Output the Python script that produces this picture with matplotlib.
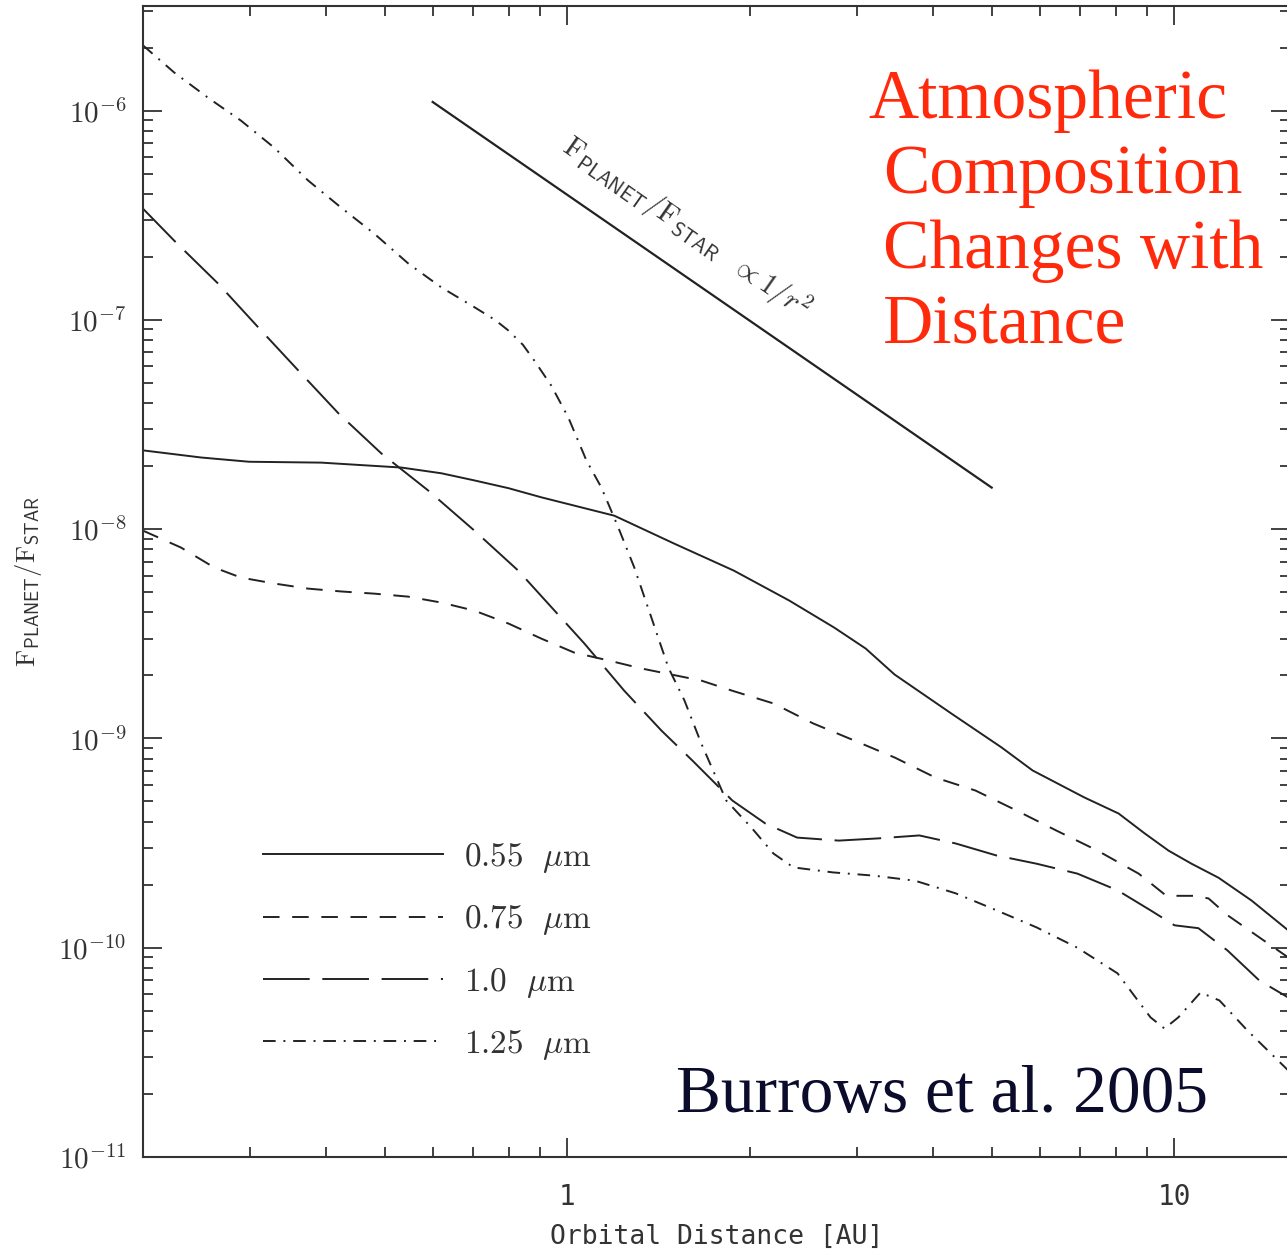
import math
import matplotlib
matplotlib.use('Agg')
import matplotlib.pyplot as plt
from matplotlib.ticker import LogLocator, FixedLocator, FuncFormatter, NullFormatter

dist_055 = [0.2, 0.2495, 0.299, 0.393, 0.533, 0.62, 0.703, 0.80, 0.906, 1.195,
            1.50, 1.88, 2.32, 2.75, 3.1, 3.46, 4.30, 5.19, 5.84, 7.11, 8.09,
            8.93, 9.78, 10.67, 11.82, 13.4, 15.4]
flux_055 = [2.38e-8, 2.20e-8, 2.10e-8, 2.08e-8, 1.97e-8, 1.85e-8, 1.71e-8,
            1.57e-8, 1.42e-8, 1.16e-8, 8.53e-9, 6.34e-9, 4.56e-9, 3.39e-9,
            2.69e-9, 2.02e-9, 1.31e-9, 9.06e-10, 7.03e-10, 5.22e-10, 4.38e-10,
            3.52e-10, 2.91e-10, 2.52e-10, 2.16e-10, 1.68e-10, 1.21e-10]

dist_075 = [0.2, 0.231, 0.262, 0.290, 0.329, 0.374, 0.424, 0.481, 0.547, 0.620,
            0.703, 0.800, 0.906, 1.027, 1.168, 1.324, 1.662, 1.870, 2.185, 2.54,
            2.97, 3.46, 4.04, 4.70, 5.49, 6.39, 7.47, 8.73, 9.70, 10.79, 11.38,
            12.23, 13.80, 15.4]
flux_075 = [9.84e-9, 8.17e-9, 6.56e-9, 5.87e-9, 5.50e-9, 5.20e-9, 5.04e-9,
            4.92e-9, 4.76e-9, 4.46e-9, 4.08e-9, 3.54e-9, 3.00e-9, 2.57e-9,
            2.36e-9, 2.16e-9, 1.89e-9, 1.69e-9, 1.47e-9, 1.18e-9, 9.77e-10,
            8.11e-10, 6.50e-10, 5.64e-10, 4.53e-10, 3.63e-10, 2.91e-10,
            2.26e-10, 1.77e-10, 1.77e-10, 1.72e-10, 1.43e-10, 1.12e-10, 8.98e-11]

dist_100 = [0.2, 0.2252, 0.266, 0.310, 0.3605, 0.420, 0.494, 0.590, 0.703, 0.830,
            1.067, 1.241, 1.429, 1.607, 1.870, 2.12, 2.39, 2.80, 3.25, 3.80,
            4.36, 5.09, 5.93, 6.92, 8.06, 9.13, 10.0, 10.95, 12.23, 13.80, 15.4]
flux_100 = [3.40e-7, 2.39e-7, 1.49e-7, 9.18e-8, 5.73e-8, 3.57e-8, 2.30e-8,
            1.53e-8, 9.84e-9, 6.34e-9, 2.84e-9, 1.69e-9, 1.09e-9, 7.84e-10,
            5.05e-10, 3.92e-10, 3.36e-10, 3.25e-10, 3.33e-10, 3.44e-10,
            3.15e-10, 2.76e-10, 2.52e-10, 2.26e-10, 1.88e-10, 1.51e-10,
            1.28e-10, 1.24e-10, 9.70e-11, 6.97e-11, 5.78e-11]

dist_125 = [0.2, 0.2252, 0.2562, 0.290, 0.329, 0.374, 0.424, 0.481, 0.547, 0.620,
            0.703, 0.760, 0.800, 0.845, 0.882, 0.941, 1.004, 1.075, 1.138, 1.213,
            1.289, 1.375, 1.467, 1.559, 1.662, 1.827, 2.01, 2.185, 2.357, 2.74,
            3.20, 3.74, 4.36, 5.09, 5.93, 6.92, 8.06, 9.13, 9.63, 10.15, 11.04,
            11.86, 13.19, 15.4]
flux_125 = [2.05e-6, 1.52e-6, 1.15e-6, 8.96e-7, 6.65e-7, 4.64e-7, 3.44e-7,
            2.58e-7, 1.86e-7, 1.43e-7, 1.15e-7, 1.00e-7, 8.89e-8, 7.60e-8,
            6.40e-8, 4.85e-8, 3.41e-8, 2.13e-8, 1.58e-8, 1.02e-8, 6.56e-9,
            3.79e-9, 2.18e-9, 1.52e-9, 9.46e-10, 5.05e-10, 3.75e-10, 2.82e-10,
            2.42e-10, 2.29e-10, 2.21e-10, 2.09e-10, 1.82e-10, 1.51e-10,
            1.25e-10, 1.00e-10, 7.54e-11, 4.65e-11, 4.11e-11, 4.65e-11,
            6.11e-11, 5.60e-11, 4.02e-11, 2.59e-11]

# reference 1/r^2 slope
dist_ref = [0.6, 5.0]
flux_ref = [1.1e-6, 1.58e-8]

x_major = [1, 10]
y_major = [1e-11, 1e-10, 1e-9, 1e-8, 1e-7, 1e-6]

labels = [r'$0.55\ \ \mu\mathrm{m}$', r'$0.75\ \ \mu\mathrm{m}$',
          r'$1.0\ \ \mu\mathrm{m}$', r'$1.25\ \ \mu\mathrm{m}$']

note_lines = ['Atmospheric', 'Composition', 'Changes with', 'Distance']

plt.rcParams['mathtext.fontset'] = 'cm'

fig = plt.figure(figsize=(12.87, 12.54), dpi=100)
ax = fig.add_axes([143 / 1287, 97 / 1254, 1147 / 1287, 1151 / 1254])

lc = '#222222'
lw = 1.4
ax.plot(dist_055, flux_055, color=lc, lw=lw, ls='-', label=labels[0])
ax.plot(dist_075, flux_075, color=lc, lw=lw, ls=(0, (8.5, 6.5)), label=labels[1])
ax.plot(dist_100, flux_100, color=lc, lw=lw, ls=(0, (24, 6.5)), label=labels[2])
ax.plot(dist_125, flux_125, color=lc, lw=lw, ls=(0, (6.5, 4, 1, 4)), label=labels[3])
ax.plot(dist_ref, flux_ref, color=lc, lw=1.6)

ax.set_xscale('log')
ax.set_yscale('log')
ax.set_xlim(0.2, 15.5)
ax.set_ylim(1e-11, 10 ** -5.5)

ax.xaxis.set_major_locator(FixedLocator(x_major))
ax.xaxis.set_minor_locator(LogLocator(base=10, subs=range(2, 10), numticks=20))
ax.yaxis.set_major_locator(FixedLocator(y_major))
ax.yaxis.set_minor_locator(LogLocator(base=10, subs=range(2, 10), numticks=20))
ax.xaxis.set_major_formatter(FuncFormatter(lambda v, p: '%d' % round(v)))
ax.xaxis.set_minor_formatter(NullFormatter())
ax.yaxis.set_major_formatter(FuncFormatter(
    lambda v, p: r'$10^{%d}$' % round(math.log10(v))))
ax.yaxis.set_minor_formatter(NullFormatter())

ax.tick_params(which='both', direction='in', top=True, right=True,
               color='#333333', width=1.3)
ax.tick_params(which='major', length=14)
ax.tick_params(which='minor', length=7.5)
ax.tick_params(axis='y', which='major', labelsize=21, pad=12, labelcolor='#333333')
ax.tick_params(axis='x', which='major', pad=19, labelcolor='#333333')
for lab in ax.get_xticklabels():
    lab.set_fontfamily('DejaVu Sans Mono')
    lab.set_fontsize(20)
for s in ax.spines.values():
    s.set_color('#333333')
    s.set_linewidth(1.5)

ax.set_xlabel('Orbital Distance [AU]', fontsize=19, family='DejaVu Sans Mono',
              color='#333333')
ax.xaxis.set_label_coords(0.5, -0.058)
ax.set_ylabel(r'$\mathrm{F}_{\mathsf{PLANET}}/\mathrm{F}_{\mathsf{STAR}}$',
              fontsize=19, color='#333333')
ax.yaxis.set_label_coords(-0.086, 0.5)

ax.text(1.57, 2.75e-7,
        r'$\mathrm{F}_{\mathsf{PLANET}}/\mathrm{F}_{\mathsf{STAR}}\ \ \propto 1/r^2$',
        fontsize=21, color='#333333', rotation=-35, rotation_mode='anchor',
        ha='center', va='center')

leg = ax.legend(loc='upper left', bbox_to_anchor=(263 / 1287, 1 - 840 / 1254),
                bbox_transform=fig.transFigure, frameon=False, fontsize=24,
                handlelength=5.4, handletextpad=0.62, labelspacing=0.82,
                borderpad=0, borderaxespad=0)
for t in leg.get_texts():
    t.set_color('#333333')

for i, line in enumerate(note_lines):
    x0 = 868 if i == 0 else 883
    fig.text(x0 / 1287, 1 - (118 + 75 * i) / 1254, line,
             fontsize=50, family='Liberation Serif', color='#ff2a0c',
             ha='left', va='baseline')
fig.text(676 / 1287, 1 - 1112 / 1254, 'Burrows et al. 2005',
         fontsize=48.5, family='Liberation Serif', color='#0b0b2c',
         ha='left', va='baseline')

fig.savefig('out.png', dpi=100)
